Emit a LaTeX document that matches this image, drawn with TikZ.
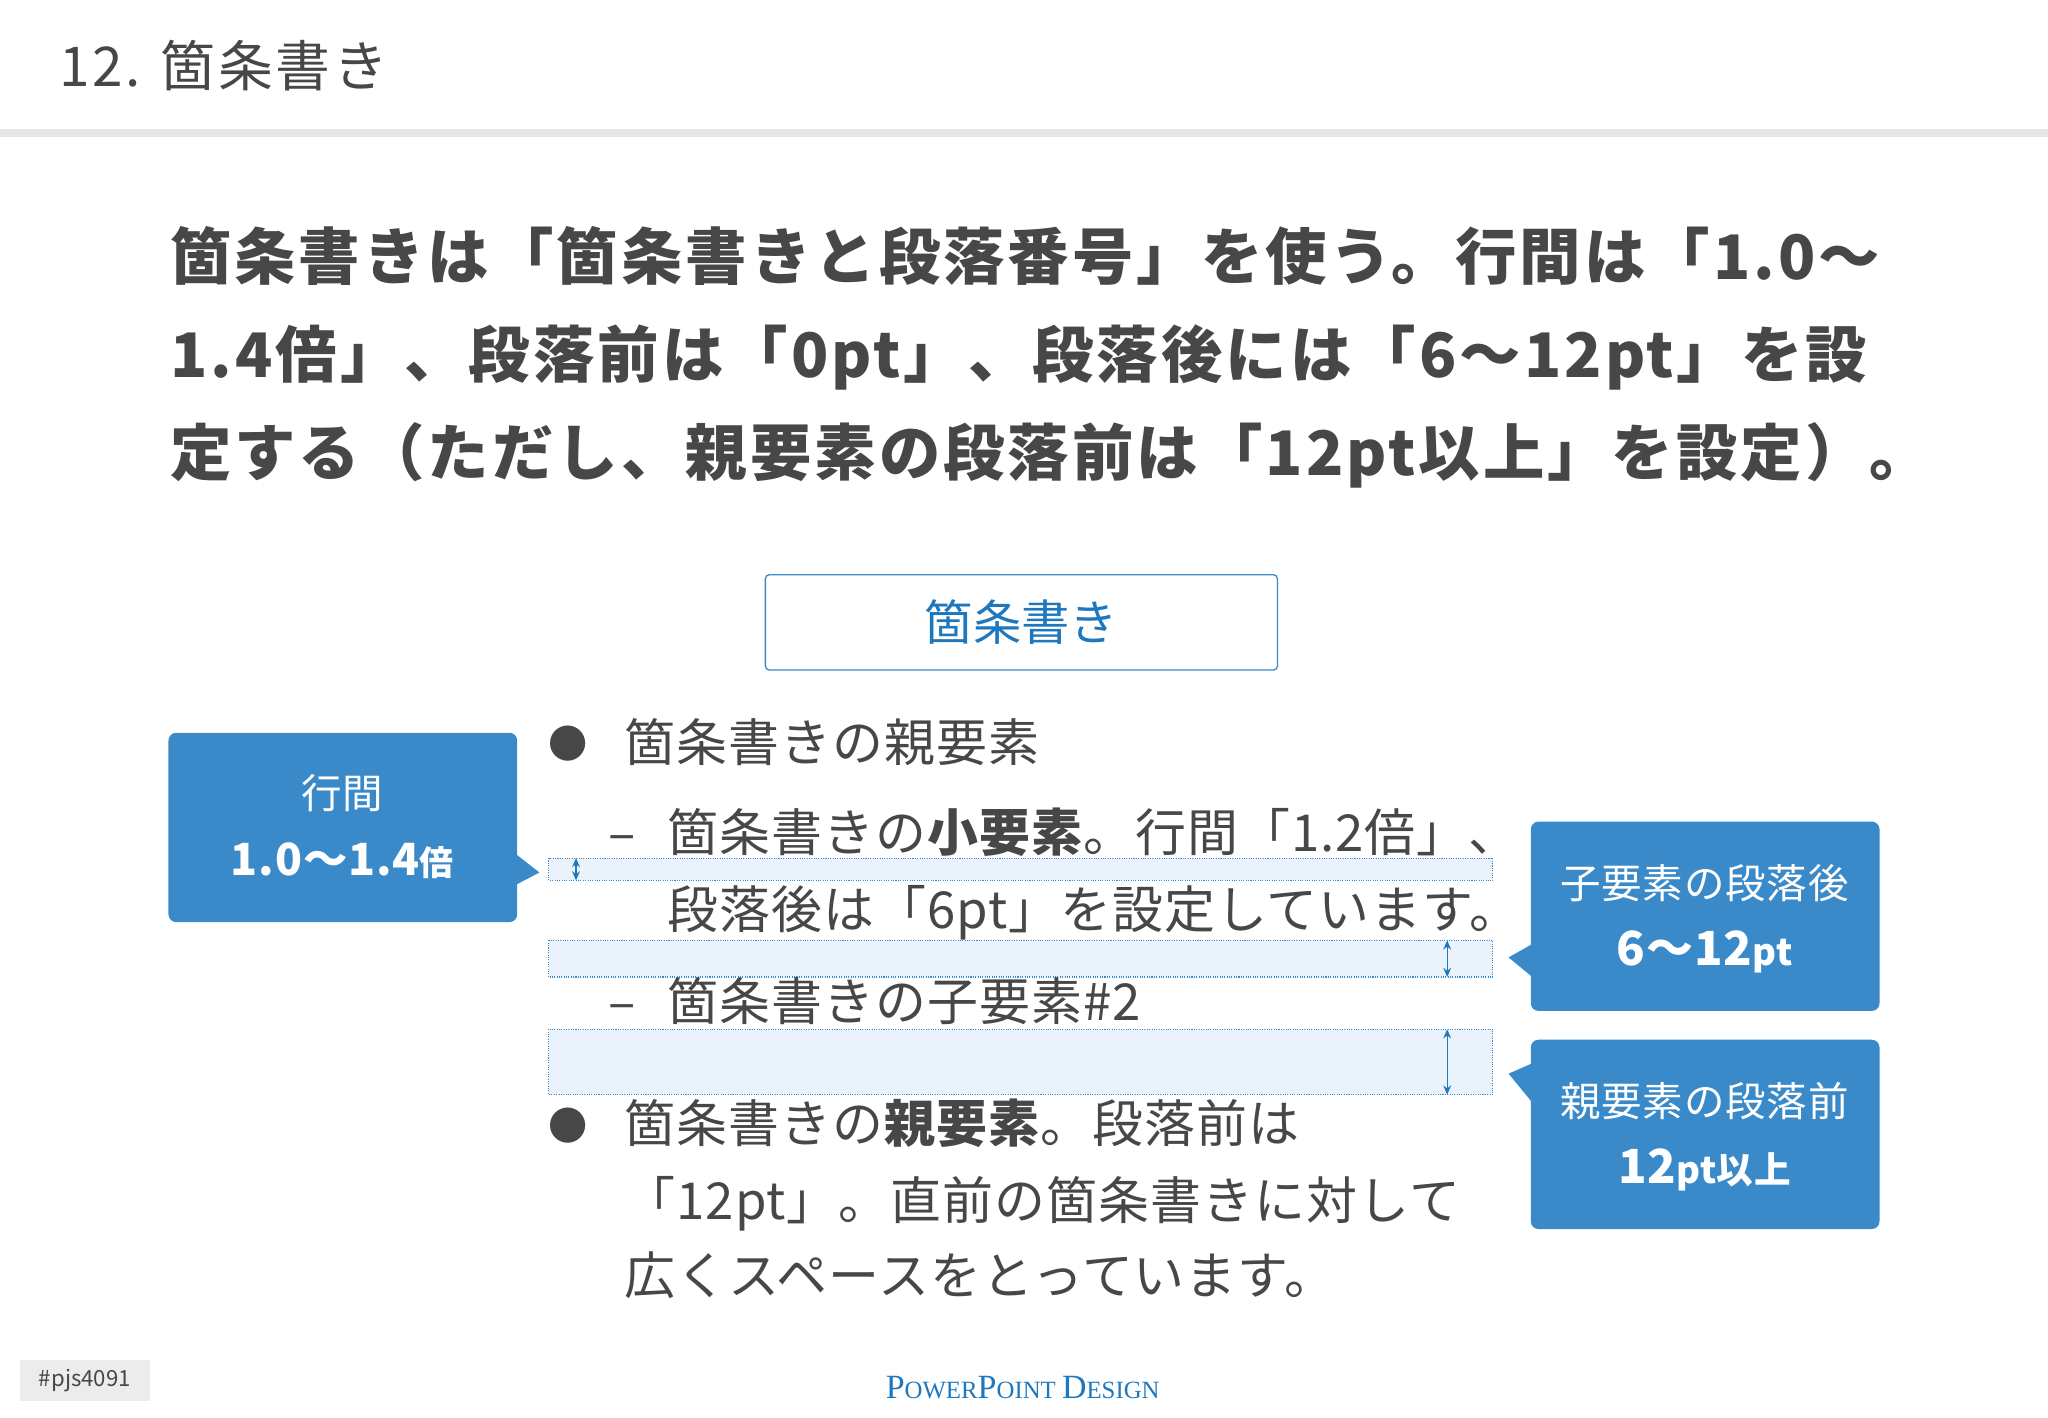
\documentclass[tikz,border=0pt]{standalone}
\usepackage{fontspec}
\setmainfont{Noto Sans CJK JP}
\newfontfamily\hd[LetterSpace=5]{Noto Sans CJK JP}
\newfontfamily\bd[LetterSpace=2]{Noto Sans CJK JP}
\newfontfamily\tim{Liberation Serif}
\usetikzlibrary{arrows.meta}
\definecolor{txt}{HTML}{474747}
\definecolor{cb}{HTML}{3A8ACA}
\definecolor{bt}{HTML}{1F78BE}
\definecolor{band}{HTML}{EAF3FB}
\tikzset{
 t/.style={anchor=base west,inner sep=0,text=txt},
 call/.style={fill=cb,rounded corners=6pt},
 wt/.style={text=white,inner sep=0,anchor=base},
 bandbox/.style={fill=band,draw=cb,densely dotted,line width=0.8pt},
 dim/.style={{Stealth[length=7pt,width=6pt]}-{Stealth[length=7pt,width=6pt]},draw=bt,line width=1pt},
}
\begin{document}
\begin{tikzpicture}[x=1pt,y=-1pt]
\useasboundingbox (0,0) rectangle (1568,1085);
\fill[white] (0,0) rectangle (1568,1085);
\node[t,font=\hd\fontsize{42}{42}\selectfont] (title) at (45,66) {12. 箇条書き};
\fill[gray!20] (0,99) rectangle (1568,105);
\node[t,font=\hd\fontsize{47}{47}\selectfont\bfseries] (h1) at (130,214) {箇条書きは「箇条書きと段落番号」を使う。行間は「1.0～};
\node[t,font=\hd\fontsize{47}{47}\selectfont\bfseries] (h2) at (130,289) {1.4倍」、段落前は「0pt」、段落後には「6～12pt」を設};
\node[t,font=\hd\fontsize{47}{47}\selectfont\bfseries] (h3) at (130,364) {定する（ただし、親要素の段落前は「12pt以上」を設定）。};
% top box
\node[draw=cb,line width=1pt,rounded corners=3pt,minimum width=392pt,minimum height=73pt,text=bt,font=\fontsize{37}{37}\selectfont] (box) at (782,476.5) {箇条書き};
% bands
\draw[bandbox] (420,657) rectangle (1143,674);
\draw[bandbox] (420,720) rectangle (1143,748);
\draw[bandbox] (420,788) rectangle (1143,838);
\coordinate (a1) at (441,657); \coordinate (a2) at (441,674);
\coordinate (e1) at (1108,720); \coordinate (e2) at (1108,748);
\coordinate (f1) at (1108,788); \coordinate (f2) at (1108,838);
\draw[dim] (a1)--(a2); \draw[dim] (e1)--(e2); \draw[dim] (f1)--(f2);
% bullets
\def\fs{\bd\fontsize{39}{39}\selectfont}
\node[t,font=\fontsize{30}{30}\selectfont] (b1) at (420,581) {●};
\node[t,font=\fs] (l1) at (478,583) {箇条書きの親要素};
\node[t,font=\fs] (d1) at (466,652) {–};
\node[t,font=\fs] (l2) at (511,652) {箇条書きの\textbf{小要素}。行間「1.2倍」、};
\node[t,font=\fs] (l3) at (511,711) {段落後は「6pt」を設定しています。};
\node[t,font=\fs] (d2) at (466,781) {–};
\node[t,font=\fs] (l4) at (511,781) {箇条書きの子要素\#2};
\node[t,font=\fontsize{30}{30}\selectfont] (b2) at (420,873) {●};
\node[t,font=\fs] (l5) at (478,875) {箇条書きの\textbf{親要素}。段落前は};
\node[t,font=\fs] (l6) at (478,934) {「12pt」。直前の箇条書きに対して};
\node[t,font=\fs] (l7) at (478,991) {広くスペースをとっています。};
% callouts
\fill[call] (129,561) rectangle (396,706);
\fill[cb] (390,650) -- (413,668) -- (390,680) -- cycle;
\node[wt,font=\fontsize{31}{31}\selectfont] (c1t) at (262,619) {行間};
\node[wt,font=\bd\fontsize{34}{34}\selectfont\bfseries] (c1b) at (262,670) {1.0～1.4\fontsize{26}{26}\selectfont 倍};
\fill[call] (1172,629) rectangle (1439,774);
\fill[cb] (1178,720) -- (1155,733) -- (1178,752) -- cycle;
\node[wt,font=\bd\fontsize{31}{31}\selectfont] (c2t) at (1305,688) {子要素の段落後};
\node[wt,font=\bd\fontsize{36}{36}\selectfont\bfseries] (c2b) at (1305,739) {6～12\fontsize{28}{28}\selectfont pt};
\fill[call] (1172,796) rectangle (1439,941);
\fill[cb] (1178,812) -- (1155,822) -- (1178,850) -- cycle;
\node[wt,font=\bd\fontsize{31}{31}\selectfont] (c3t) at (1305,855) {親要素の段落前};
\node[wt,font=\bd\fontsize{36}{36}\selectfont\bfseries] (c3b) at (1305,906) {12\fontsize{28}{28}\selectfont pt以上};
% footer
\fill[gray!15] (15,1041) rectangle (115,1073);
\node[text=txt,font=\fontsize{17}{17}\selectfont,inner sep=0] (tag) at (65,1057) {\#pjs4091};
\node[text=bt,font=\tim\fontsize{26}{26}\selectfont,inner sep=0,anchor=base] (pd) at (783,1071) {P\fontsize{19}{19}\selectfont OWER\fontsize{26}{26}\selectfont P\fontsize{19}{19}\selectfont OINT \fontsize{26}{26}\selectfont D\fontsize{19}{19}\selectfont ESIGN};
\end{tikzpicture}
\end{document}
